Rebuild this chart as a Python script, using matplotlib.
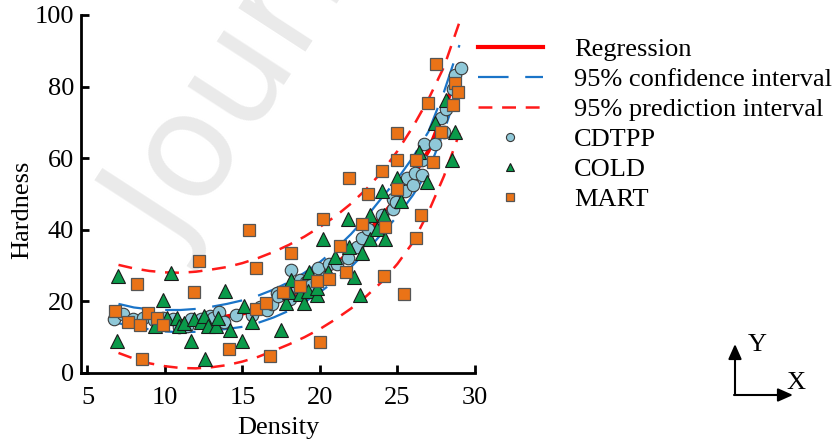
import matplotlib.pyplot as plt

plt.rcParams["font.family"] = ["Liberation Serif", "DejaVu Serif"]
plt.rcParams["lines.scale_dashes"] = False

# fitted curves at integer densities
CURVE_X = [7, 8, 9, 10, 11, 12, 13, 14, 15, 16, 17, 18, 19, 20, 21, 22, 23, 24, 25, 26, 27, 28, 29]
REGRESSION = [16.6, 15.6, 15.0, 14.6, 14.5, 14.7, 15.2, 15.8, 16.6, 17.8, 19.4, 21.4, 23.9, 26.8,
              30.2, 34.2, 38.8, 44.0, 49.0, 55.0, 62.0, 73.0, 86.0]
CONF_UPPER = [19.3, 18.3, 17.8, 17.6, 17.6, 17.9, 18.5, 19.3, 20.3, 21.6, 23.3, 25.4, 28.0, 31.0,
              34.6, 38.8, 43.6, 49.0, 54.2, 60.3, 67.4, 78.5, 91.6]
CONF_LOWER = [13.9, 12.9, 12.2, 11.6, 11.4, 11.5, 11.9, 12.3, 12.9, 14.0, 15.5, 17.4, 19.8, 22.6,
              25.8, 29.6, 34.0, 39.0, 43.8, 49.7, 56.6, 67.5, 80.4]
PRED_UPPER = [30.2, 29.2, 28.5, 28.1, 28.0, 28.3, 28.9, 29.6, 30.7, 32.1, 33.8, 35.8, 38.1, 40.8,
              43.8, 47.3, 51.4, 56.2, 62.0, 68.8, 76.5, 85.5, 98.0]
PRED_LOWER = [5.6, 4.0, 2.7, 1.9, 1.4, 1.3, 1.6, 2.2, 3.2, 4.5, 6.2, 8.0, 10.0, 12.3,
              15.0, 18.0, 21.5, 25.5, 30.5, 36.5, 45.0, 55.0, 67.0]

# measured samples
CDTPP_X = [6.7, 7.3, 7.95, 8.55, 9.3, 9.9, 10.5, 10.9, 11.4, 11.7, 12.3, 12.9, 13.1, 13.5, 13.8,
           14.6, 15.6, 16.1, 16.6, 16.9, 17.2, 17.3, 18.0, 18.05, 18.1, 18.5, 18.7, 19.1, 19.2,
           19.4, 19.9, 19.8, 20.4, 20.6, 21.1, 21.8, 22.4, 22.7, 23.1, 24.0, 24.7, 24.7, 24.9,
           25.4, 25.5, 25.6, 26.0, 26.1, 26.6, 26.6, 26.7, 27.4, 27.8, 28.0, 28.1, 28.6, 28.7, 29.1]
CDTPP_Y = [15.2, 16.4, 15.1, 15.5, 14.8, 15.5, 15.2, 12.8, 13.2, 15.2, 15.1, 15.8, 15.3, 17.1, 14.3,
           16.2, 16.2, 18.3, 17.5, 19.4, 22.3, 21.5, 23.2, 20.8, 28.8, 24.1, 26.0, 25.5, 23.7,
           24.6, 29.2, 25.5, 26.9, 30.4, 30.4, 32.0, 35.1, 37.6, 40.1, 44.1, 45.8, 48.5, 47.9,
           51.6, 50.9, 54.6, 52.5, 55.8, 55.3, 59.5, 64.1, 64.1, 71.1, 67.4, 73.7, 79.3, 83.2, 85.1]

COLD_X = [6.9, 7.0, 9.35, 9.9, 10.1, 10.4, 10.75, 10.9, 11.25, 11.7, 11.9, 12.3, 12.5, 12.6,
          12.8, 13.3, 13.45, 13.9, 14.2, 15.0, 15.1, 15.6, 17.5, 17.8, 18.0, 18.1, 18.7, 18.95,
          19.2, 19.3, 19.8, 19.8, 20.2, 20.5, 21.0, 21.8, 21.9, 22.2, 22.6, 22.7, 23.2, 23.2,
          23.7, 24.0, 24.1, 24.2, 25.0, 25.2, 26.4, 26.9, 27.4, 28.1, 28.5, 28.7]
COLD_Y = [8.8, 27.1, 13.2, 20.5, 15.3, 27.8, 15.3, 13.1, 14.1, 8.8, 15.0, 14.3, 16.0, 3.8,
          13.0, 13.1, 15.3, 22.8, 11.9, 8.8, 18.7, 14.3, 12.0, 19.5, 22.7, 26.0, 22.1, 19.6,
          22.8, 28.3, 21.8, 23.7, 37.3, 28.3, 32.3, 43.0, 35.3, 26.9, 21.8, 33.4, 44.1, 37.3,
          40.1, 50.8, 44.1, 37.3, 54.5, 48.1, 61.8, 53.4, 69.9, 76.3, 59.5, 67.2]

MART_X = [6.8, 7.6, 8.2, 8.4, 8.5, 8.9, 9.5, 9.9, 11.9, 12.2, 14.1, 15.4, 15.9, 15.9, 16.5,
          16.8, 17.6, 18.1, 18.7, 19.8, 20.0, 20.2, 20.6, 21.3, 21.7, 21.9, 22.7, 23.1, 24.0,
          24.1, 24.2, 25.0, 24.95, 25.0, 25.4, 26.2, 26.2, 26.5, 27.0, 27.3, 27.5, 27.8, 28.6,
          28.7, 28.9]
MART_Y = [17.3, 14.3, 24.9, 13.4, 3.9, 16.7, 15.4, 13.4, 22.7, 31.3, 6.7, 39.9, 29.2, 17.8, 19.5,
          4.8, 22.7, 33.4, 24.4, 25.7, 8.6, 43.0, 26.2, 35.5, 28.3, 54.5, 41.5, 49.9, 56.3,
          27.1, 40.7, 51.5, 59.5, 67.0, 22.0, 37.6, 59.5, 44.1, 75.5, 59.0, 86.2, 67.4, 74.9,
          80.9, 78.6]

X_TICKS = [5, 10, 15, 20, 25, 30]
Y_TICKS = [0, 20, 40, 60, 80, 100]


def main() -> None:
    fig = plt.figure(figsize=(8.34, 4.41), dpi=100)
    ax = fig.add_axes([0.0971, 0.1542, 0.4724, 0.8118])
    ax.set_facecolor("none")

    # faint watermark behind everything
    fig.text(0.105, 0.45, "Journal Pre-proof", rotation=57, fontsize=105, color="#eaeaea",
             family="DejaVu Sans", ha="left", va="baseline", zorder=-5)

    ax.plot(CURVE_X, REGRESSION, color="#ff0000", lw=3, label="Regression", zorder=2)
    ax.plot(CURVE_X, CONF_UPPER, color="#1a74c8", lw=1.6, ls=(0, (22, 12)),
            label="95% confidence interval", zorder=2)
    ax.plot(CURVE_X, CONF_LOWER, color="#1a74c8", lw=1.6, ls=(0, (22, 12)), zorder=2)
    ax.plot(CURVE_X, PRED_UPPER, color="#ff1a1a", lw=1.8, ls=(0, (10, 7)),
            label="95% prediction interval", zorder=2)
    ax.plot(CURVE_X, PRED_LOWER, color="#ff1a1a", lw=1.8, ls=(0, (10, 7)), zorder=2)

    ax.plot(CDTPP_X, CDTPP_Y, "o", ms=9, mfc="#8fc8d8", mec="#3a3a3a", mew=0.8,
            label="CDTPP", zorder=3)
    ax.plot(COLD_X, COLD_Y, "^", ms=9.5, mfc="#0a9a4a", mec="#1a1a1a", mew=0.8,
            label="COLD", zorder=3)
    ax.plot(MART_X, MART_Y, "s", ms=8.5, mfc="#ea7317", mec="#555555", mew=0.9,
            label="MART", zorder=3)

    ax.set_xlim(4.58, 30)
    ax.set_ylim(0, 100)
    ax.set_xticks(X_TICKS)
    ax.set_yticks(Y_TICKS)
    ax.tick_params(direction="in", length=6, width=2, labelsize=19)
    ax.tick_params(axis="x", pad=10)
    ax.tick_params(axis="y", pad=5)
    for side in ("top", "right"):
        ax.spines[side].set_visible(False)
    for side in ("left", "bottom"):
        ax.spines[side].set_linewidth(2)
    ax.set_xlabel("Density", fontsize=19, labelpad=6)
    ax.set_ylabel("Hardness", fontsize=19)
    ax.yaxis.set_label_coords(-0.12, 0.455)

    ax.legend(loc="upper left", bbox_to_anchor=(0.573, 0.915), bbox_transform=fig.transFigure,
              frameon=False, fontsize=19, handlelength=2.45, handletextpad=1.2,
              labelspacing=0.25, borderpad=0, borderaxespad=0, markerscale=0.65)

    # axis direction sketch, bottom right
    arrow = dict(arrowstyle="-|>,head_length=0.9,head_width=0.4", color="black", lw=1.5,
                 shrinkA=0, shrinkB=0)
    ax.annotate("", xy=(735, 97), xytext=(735, 46), xycoords="figure pixels",
                textcoords="figure pixels", arrowprops=arrow)
    ax.annotate("", xy=(793, 46), xytext=(734, 46), xycoords="figure pixels",
                textcoords="figure pixels", arrowprops=arrow)
    fig.text(748, 90, "Y", transform=None, fontsize=19)
    fig.text(786, 52, "X", transform=None, fontsize=19)

    fig.savefig("out.png", dpi=100)


if __name__ == "__main__":
    main()
